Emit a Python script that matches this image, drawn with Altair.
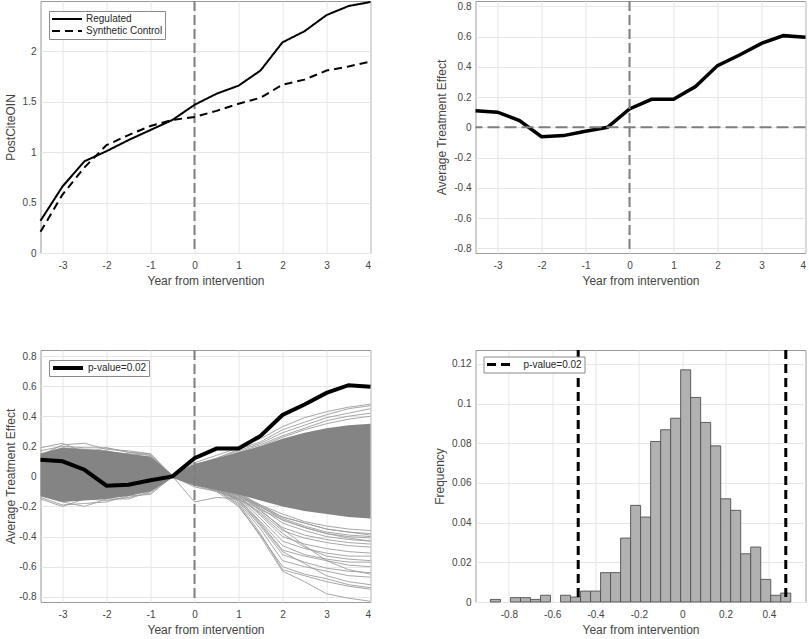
import altair as alt
import pandas as pd

# ---------------------------------------------------------------- data
years = [-3.5, -3, -2.5, -2, -1.5, -1, -0.5, 0, 0.5, 1, 1.5, 2, 2.5, 3, 3.5, 4]
regulated = [0.32, 0.66, 0.91, 1.01, 1.12, 1.22, 1.32, 1.47, 1.58, 1.66, 1.81, 2.09, 2.20, 2.36, 2.45, 2.49]
synthetic_control = [0.21, 0.58, 0.85, 1.07, 1.17, 1.26, 1.32, 1.35, 1.41, 1.48, 1.54, 1.67, 1.72, 1.81, 1.85, 1.90]
treatment_effect = [0.11, 0.10, 0.044, -0.062, -0.055, -0.026, 0.0, 0.121, 0.185, 0.185,
                    0.269, 0.408, 0.478, 0.555, 0.606, 0.595]

# dense core of the placebo runs (upper / lower envelope per half-year)
placebo_core_upper = [0.15, 0.19, 0.18, 0.17, 0.15, 0.13, 0.01, 0.08, 0.12, 0.16, 0.20, 0.25, 0.29, 0.32, 0.34, 0.35]
placebo_core_lower = [-0.13, -0.17, -0.16, -0.15, -0.13, -0.10, -0.01, -0.06, -0.09, -0.12, -0.16, -0.20, -0.23, -0.25, -0.27, -0.28]

# individual placebo runs along the edges of the core
placebo_upper_1 = [0.19, 0.22, 0.16, 0.19, 0.16, 0.14, 0.0, 0.09, 0.14, 0.19, 0.25, 0.33, 0.39, 0.43, 0.46, 0.48]
placebo_upper_2 = [0.14, 0.21, 0.22, 0.18, 0.17, 0.15, 0.0, 0.08, 0.12, 0.18, 0.23, 0.31, 0.36, 0.41, 0.45, 0.47]
placebo_upper_3 = [0.17, 0.20, 0.19, 0.19, 0.16, 0.15, 0.0, 0.07, 0.12, 0.17, 0.22, 0.29, 0.34, 0.39, 0.42, 0.45]
placebo_upper_4 = [0.12, 0.18, 0.17, 0.16, 0.15, 0.14, 0.0, 0.08, 0.11, 0.16, 0.21, 0.27, 0.32, 0.37, 0.40, 0.42]
placebo_upper_5 = [0.15, 0.19, 0.18, 0.17, 0.14, 0.13, 0.0, 0.07, 0.11, 0.15, 0.20, 0.26, 0.31, 0.35, 0.38, 0.40]
placebo_lower_1 = [-0.15, -0.20, -0.15, -0.16, -0.14, -0.11, 0.0, -0.06, -0.10, -0.15, -0.22, -0.29, -0.34, -0.38, -0.41, -0.43]
placebo_lower_2 = [-0.13, -0.17, -0.20, -0.15, -0.15, -0.10, 0.0, -0.07, -0.10, -0.14, -0.20, -0.27, -0.31, -0.35, -0.37, -0.39]
placebo_lower_3 = [-0.14, -0.19, -0.18, -0.17, -0.13, -0.12, 0.0, -0.05, -0.09, -0.13, -0.19, -0.25, -0.30, -0.33, -0.35, -0.36]

# placebo runs that fall away after the intervention
post_years = [-0.5, 0, 0.5, 1, 1.5, 2, 2.5, 3, 3.5, 4]
placebo_tail_1 = [0, -0.04, -0.09, -0.19, -0.40, -0.63, -0.70, -0.78, -0.81, -0.83]
placebo_tail_2 = [0, -0.05, -0.09, -0.18, -0.38, -0.62, -0.66, -0.70, -0.73, -0.75]
placebo_tail_3 = [0, -0.04, -0.10, -0.20, -0.39, -0.60, -0.65, -0.68, -0.72, -0.74]
placebo_tail_4 = [0, -0.03, -0.08, -0.17, -0.35, -0.56, -0.60, -0.63, -0.66, -0.67]
placebo_tail_5 = [0, -0.04, -0.08, -0.16, -0.33, -0.52, -0.57, -0.61, -0.63, -0.64]
placebo_tail_6 = [0, -0.05, -0.08, -0.15, -0.31, -0.49, -0.53, -0.56, -0.59, -0.60]
placebo_tail_7 = [0, -0.03, -0.07, -0.15, -0.30, -0.46, -0.52, -0.55, -0.57, -0.57]
placebo_tail_8 = [0, -0.04, -0.07, -0.14, -0.28, -0.43, -0.48, -0.51, -0.53, -0.53]
placebo_tail_9 = [0, -0.03, -0.06, -0.13, -0.26, -0.40, -0.45, -0.48, -0.50, -0.51]
placebo_tail_10 = [0, -0.17, -0.14, -0.15, -0.24, -0.36, -0.41, -0.44, -0.46, -0.47]
placebo_tail_11 = [0, -0.04, -0.07, -0.12, -0.23, -0.34, -0.39, -0.42, -0.44, -0.45]
placebo_tail_12 = [0, -0.03, -0.06, -0.12, -0.21, -0.31, -0.36, -0.40, -0.42, -0.43]
placebo_tail_13 = [0, -0.02, -0.05, -0.11, -0.20, -0.29, -0.34, -0.38, -0.40, -0.41]
placebo_tail_14 = [0, -0.04, -0.06, -0.12, -0.22, -0.35, -0.46, -0.56, -0.62, -0.65]
placebo_tail_15 = [0, -0.05, -0.09, -0.16, -0.32, -0.50, -0.58, -0.66, -0.70, -0.72]
placebo_tail_16 = [0, -0.03, -0.07, -0.13, -0.25, -0.38, -0.47, -0.53, -0.55, -0.56]
placebo_tail_17 = [0, -0.03, -0.06, -0.11, -0.19, -0.27, -0.31, -0.35, -0.37, -0.38]
placebo_tail_18 = [0, -0.04, -0.07, -0.12, -0.20, -0.28, -0.33, -0.37, -0.39, -0.40]

# histogram of placebo effects (regular bins)
hist_first_edge = -0.885
hist_bin_width = 0.0462
hist_freq = [0.0013, 0.0, 0.0022, 0.0022, 0.0013, 0.0034, 0.0, 0.0034, 0.0025, 0.0055,
             0.0055, 0.0148, 0.0148, 0.0322, 0.0487, 0.0428, 0.0809, 0.0868, 0.0926, 0.117,
             0.1031, 0.0905, 0.0787, 0.052, 0.0462, 0.0243, 0.0277, 0.0114, 0.0034, 0.0045]
p_value_bounds = [-0.48, 0.478]
p_label = "p-value=0.02"
intervention_year = [0]

# ---------------------------------------------------------------- style
FONT = "Liberation Sans"
W, H = 330, 252
GRAY_DASH = "#7f7f7f"
XLABEL = "Year from intervention"
year_ticks = [-3, -2, -1, 0, 1, 2, 3, 4]
effect_ticks = [-0.8, -0.6, -0.4, -0.2, 0, 0.2, 0.4, 0.6, 0.8]
year_scale = alt.Scale(domain=[-3.5, 4], nice=False, zero=False)
NUM = "datum.value + ''"


def axis(values, title, title_pad=5):
    return alt.Axis(values=values, tickCount=len(values), title=title, labelExpr=NUM,
                    titlePadding=title_pad)


def x_year():
    return alt.X("year:Q", scale=year_scale, axis=axis(year_ticks, XLABEL, 4.5))


def legend_box(x, y, size, width, offset):
    return alt.Legend(orient="none", legendX=x, legendY=y, title=None, symbolType="stroke",
                      symbolSize=size, symbolStrokeWidth=width, symbolStrokeColor="black",
                      clipHeight=12, labelFontSize=10, labelOffset=offset, padding=2,
                      fillColor="white", strokeColor="#8a8a8a", rowPadding=0)


# ---------------------------------------------------------------- top left
outcome = pd.DataFrame({
    "year": years * 2,
    "value": regulated + synthetic_control,
    "series": ["Regulated"] * len(years) + ["Synthetic Control"] * len(years),
})
vline = pd.DataFrame({"year": intervention_year})

tl_lines = alt.Chart(outcome).mark_line(color="black", strokeWidth=2).encode(
    x=x_year(),
    y=alt.Y("value:Q", scale=alt.Scale(domain=[0, 2.5], nice=False),
            axis=axis([0, 0.5, 1, 1.5, 2], "PostCiteOIN")),
    strokeDash=alt.StrokeDash("series:N",
                              scale=alt.Scale(domain=["Regulated", "Synthetic Control"], range=[[1, 0], [8, 5]]),
                              legend=legend_box(8.5, 10, 900, 2, 3)),
)
tl_rule = alt.Chart(vline).mark_rule(color=GRAY_DASH, strokeWidth=2, strokeDash=[10, 4]).encode(
    x=alt.X("year:Q", scale=year_scale))
top_left = alt.layer(tl_rule, tl_lines).properties(width=W, height=H)

# ---------------------------------------------------------------- top right
ate = pd.DataFrame({"year": years, "effect": treatment_effect, "series": [p_label] * len(years)})
zero_line = pd.DataFrame({"effect": [0]})

tr_scale = alt.Scale(domain=[-0.831, 0.835], nice=False)
effect_y = alt.Y("effect:Q", scale=tr_scale, axis=axis(effect_ticks, "Average Treatment Effect"))

tr_vrule = alt.Chart(vline).mark_rule(color=GRAY_DASH, strokeWidth=2, strokeDash=[10, 4]).encode(
    x=alt.X("year:Q", scale=year_scale))
tr_hrule = alt.Chart(zero_line).mark_rule(color=GRAY_DASH, strokeWidth=2, strokeDash=[12, 5]).encode(
    y=alt.Y("effect:Q", scale=tr_scale))
tr_line = alt.Chart(ate).mark_line(color="black", strokeWidth=3.5).encode(x=x_year(), y=effect_y)
top_right = alt.layer(tr_line, tr_hrule, tr_vrule).properties(width=W, height=H)

# ---------------------------------------------------------------- bottom left
band = pd.DataFrame({"year": years, "upper": placebo_core_upper, "lower": placebo_core_lower})

edge_runs = {
    "u1": placebo_upper_1, "u2": placebo_upper_2, "u3": placebo_upper_3, "u4": placebo_upper_4,
    "u5": placebo_upper_5, "l1": placebo_lower_1, "l2": placebo_lower_2, "l3": placebo_lower_3,
}
tail_runs = {
    "t1": placebo_tail_1, "t2": placebo_tail_2, "t3": placebo_tail_3, "t4": placebo_tail_4,
    "t5": placebo_tail_5, "t6": placebo_tail_6, "t7": placebo_tail_7, "t8": placebo_tail_8,
    "t9": placebo_tail_9, "t10": placebo_tail_10, "t11": placebo_tail_11, "t12": placebo_tail_12,
    "t13": placebo_tail_13, "t14": placebo_tail_14, "t15": placebo_tail_15, "t16": placebo_tail_16,
    "t17": placebo_tail_17, "t18": placebo_tail_18,
}
rows = []
for name, vals in edge_runs.items():
    rows += [{"run": name, "year": x, "effect": v} for x, v in zip(years, vals)]
for name, vals in tail_runs.items():
    rows += [{"run": name, "year": x, "effect": v} for x, v in zip(post_years, vals)]
placebo = pd.DataFrame(rows)

bl_scale = alt.Scale(domain=[-0.835, 0.84], nice=False)
bl_effect_y = alt.Y("effect:Q", scale=bl_scale, axis=axis(effect_ticks, "Average Treatment Effect", 1.7))

bl_runs = alt.Chart(placebo).mark_line(color="#9d9d9d", strokeWidth=0.9).encode(
    x=x_year(), y=bl_effect_y, detail="run:N")
bl_band = alt.Chart(band).mark_area(color="#848484", opacity=1).encode(
    x=alt.X("year:Q", scale=year_scale), y=alt.Y("upper:Q", scale=bl_scale), y2="lower:Q")
bl_rule = alt.Chart(vline).mark_rule(color=GRAY_DASH, strokeWidth=2, strokeDash=[10, 4]).encode(
    x=alt.X("year:Q", scale=year_scale))
bl_line = alt.Chart(ate).mark_line(strokeWidth=4).encode(
    x=alt.X("year:Q", scale=year_scale), y=alt.Y("effect:Q", scale=bl_scale),
    color=alt.Color("series:N", scale=alt.Scale(domain=[p_label], range=["black"]),
                    legend=legend_box(8.5, 10, 900, 4, 3)),
)
bottom_left = alt.layer(bl_runs, bl_band, bl_rule, bl_line).properties(width=W, height=H)

# ---------------------------------------------------------------- bottom right
hist = pd.DataFrame({
    "lo": [hist_first_edge + i * hist_bin_width for i in range(len(hist_freq))],
    "hi": [hist_first_edge + (i + 1) * hist_bin_width for i in range(len(hist_freq))],
    "freq": hist_freq,
})
hist = hist[hist["freq"] > 0]
bounds = pd.DataFrame({"effect": p_value_bounds, "series": [p_label] * len(p_value_bounds)})

hist_scale = alt.Scale(domain=[-0.954, 0.569], nice=False, zero=False)
freq_scale = alt.Scale(domain=[0, 0.127], nice=False)
br_bars = alt.Chart(hist).mark_rect(color="#b1b1b1", stroke="#505050", strokeWidth=0.9).encode(
    x=alt.X("lo:Q", scale=hist_scale, axis=axis([-0.8, -0.6, -0.4, -0.2, 0, 0.2, 0.4], XLABEL, 4.5)),
    x2="hi:Q",
    y=alt.Y("freq:Q", scale=freq_scale, axis=axis([0, 0.02, 0.04, 0.06, 0.08, 0.1, 0.12], "Frequency")),
    y2=alt.datum(0),
)
br_rules = alt.Chart(bounds).mark_rule(color="black", strokeWidth=3).encode(
    x=alt.X("effect:Q", scale=hist_scale),
    strokeDash=alt.StrokeDash("series:N", scale=alt.Scale(domain=[p_label], range=[[9, 5]]),
                              legend=legend_box(8, 6.5, 576, 3, 11)),
)
bottom_right = alt.layer(br_bars, br_rules).properties(width=W, height=H)

# ---------------------------------------------------------------- layout
chart = alt.concat(
    top_left, top_right, bottom_left, bottom_right,
    columns=2, spacing={"row": 97, "column": 105}, bounds="flush",
).resolve_scale(
    x="independent", y="independent", color="independent", strokeDash="independent",
).resolve_legend(
    color="independent", strokeDash="independent",
).properties(
    padding={"left": 3.5, "top": -3, "right": -6.5, "bottom": 0},
    background="white",
).configure_view(
    stroke="#9a9a9a", strokeWidth=1,
).configure_axis(
    labelFont=FONT, titleFont=FONT, labelFontSize=10, titleFontSize=12,
    labelColor="#444444", titleColor="#444444", titleFontWeight="normal",
    gridColor="#e6e6e6", gridWidth=1, domain=False, ticks=False, labelOverlap=False,
    labelPadding=7.5,
).configure_axisY(
    labelPadding=4.5,
).configure_legend(
    labelFont=FONT, labelColor="#262626",
)

chart.save("out.html", embed_options={"renderer": "svg", "actions": False})
